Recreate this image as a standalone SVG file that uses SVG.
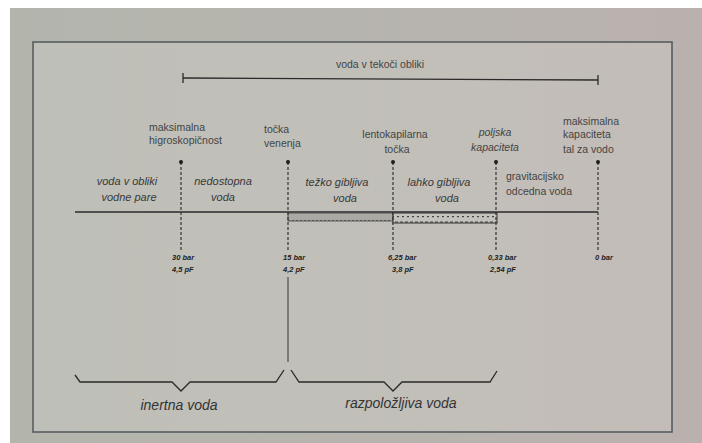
<svg xmlns="http://www.w3.org/2000/svg" width="702" height="443" viewBox="0 0 702 443">
<defs>
<linearGradient id="bg" x1="0" y1="0" x2="1" y2="0">
<stop offset="0" stop-color="#b3b5ad"/>
<stop offset="0.6" stop-color="#b7b4ae"/>
<stop offset="1" stop-color="#bab1ae"/>
</linearGradient>
<linearGradient id="paper" x1="0" y1="0" x2="1" y2="0">
<stop offset="0" stop-color="#bebfb8"/>
<stop offset="0.6" stop-color="#c2bfb9"/>
<stop offset="1" stop-color="#c3bcb8"/>
</linearGradient>
<pattern id="dots" width="4" height="9" patternUnits="userSpaceOnUse">
<rect x="0" y="4" width="2" height="1.2" fill="#555"/>
</pattern>
<pattern id="ticks" width="5" height="10" patternUnits="userSpaceOnUse">
<rect x="0" y="1.5" width="3" height="1.2" fill="#444"/>
<rect x="2" y="6" width="2" height="1.2" fill="#444"/>
</pattern>
</defs>
<style>
.lbl{font-family:"Liberation Sans",Arial,sans-serif;font-size:10.5px;fill:#444}
.it{font-family:"Liberation Sans",Arial,sans-serif;font-size:11px;font-style:italic;fill:#383838}
.val{font-family:"Liberation Sans",Arial,sans-serif;font-size:7.5px;font-weight:bold;font-style:italic;fill:#1e1e1e}
.big{font-family:"Liberation Sans",Arial,sans-serif;font-size:14px;font-style:italic;fill:#333}
.dash{stroke:#333;stroke-width:1.2;stroke-dasharray:3 2;fill:none}
.dot{fill:#1e1e1e}
.ln{stroke:#2a2a2a;fill:none}
</style>
<rect x="0" y="0" width="702" height="443" fill="#ffffff"/>
<rect x="10" y="8" width="692" height="435" fill="url(#bg)"/>
<rect x="33" y="42" width="639" height="390" fill="url(#paper)" stroke="#575d60" stroke-width="1.6"/>

<g id="connectors">
<line class="ln" x1="75" y1="212" x2="598" y2="212" stroke-width="1.6"/>
<rect x="288" y="213" width="105" height="8" fill="#aaa9a4" stroke="#444" stroke-width="0.8"/>
<rect x="288" y="213" width="105" height="8" fill="url(#dots)"/>
<rect x="393" y="213" width="104" height="10" fill="#c4c2bc" stroke="#333" stroke-width="1"/>
<rect x="393" y="213" width="104" height="10" fill="url(#ticks)"/>
<line class="dash" x1="181" y1="162" x2="181" y2="250"/>
<line class="dash" x1="288" y1="162" x2="288" y2="250"/>
<line class="ln" x1="288" y1="277" x2="288" y2="362" stroke-width="0.9" stroke="#555"/>
<line class="dash" x1="393" y1="162" x2="393" y2="250"/>
<line class="dash" x1="496" y1="162" x2="496" y2="250"/>
<line class="dash" x1="598" y1="162" x2="598" y2="250"/>
<path class="ln" stroke-width="1.3" stroke="#3a3a3a" d="M75 375 L80 382 L172 382 L181 391 L190 382 L276 382 L284 370"/>
<path class="ln" stroke-width="1.3" stroke="#3a3a3a" d="M291 370 L299 382 L384 382 L393 391 L402 382 L490 382 L497 371"/>
<line class="ln" x1="183" y1="78" x2="598" y2="80" stroke-width="1.3"/>
<line class="ln" x1="183" y1="73" x2="183" y2="83" stroke-width="1.3"/>
<line class="ln" x1="598" y1="75" x2="598" y2="85" stroke-width="1.3"/>
</g>

<g id="top-range"><text class="lbl" x="380" y="68" text-anchor="middle">voda v tekoči obliki</text></g>

<g id="p-higro">
<circle class="dot" cx="181" cy="162" r="2"/>
<text class="lbl" x="149" y="131">maksimalna</text>
<text class="lbl" x="149" y="144">higroskopičnost</text>
<text class="val" x="172" y="260">30 bar</text>
<text class="val" x="172" y="272">4,5 pF</text>
</g>
<g id="p-venenje">
<circle class="dot" cx="288" cy="162" r="2"/>
<text class="lbl" x="264" y="133">točka</text>
<text class="lbl" x="264" y="147">venenja</text>
<text class="val" x="283" y="260">15 bar</text>
<text class="val" x="283" y="272">4,2 pF</text>
</g>
<g id="p-lento">
<circle class="dot" cx="393" cy="162" r="2"/>
<text class="lbl" x="395" y="138" text-anchor="middle">lentokapilarna</text>
<text class="lbl" x="397" y="153" text-anchor="middle">točka</text>
<text class="val" x="388" y="260">6,25 bar</text>
<text class="val" x="392" y="272">3,8 pF</text>
</g>
<g id="p-poljska">
<circle class="dot" cx="496" cy="162" r="2"/>
<text class="lbl" x="495" y="136" text-anchor="middle" font-style="italic">poljska</text>
<text class="lbl" x="495" y="151" text-anchor="middle" font-style="italic">kapaciteta</text>
<text class="val" x="488" y="260">0,33 bar</text>
<text class="val" x="490" y="272">2,54 pF</text>
</g>
<g id="p-maxkap">
<circle class="dot" cx="598" cy="162" r="2"/>
<text class="lbl" x="563" y="125">maksimalna</text>
<text class="lbl" x="563" y="138">kapaciteta</text>
<text class="lbl" x="563" y="153">tal za vodo</text>
<text class="val" x="595" y="260">0 bar</text>
</g>

<g id="z-para">
<text class="it" x="127" y="185" text-anchor="middle">voda v obliki</text>
<text class="it" x="129" y="201" text-anchor="middle">vodne pare</text>
</g>
<g id="z-nedostopna">
<text class="it" x="223" y="185" text-anchor="middle">nedostopna</text>
<text class="it" x="223" y="201" text-anchor="middle">voda</text>
</g>
<g id="z-tezko">
<text class="it" x="337" y="186" text-anchor="middle">težko gibljiva</text>
<text class="it" x="345" y="202" text-anchor="middle">voda</text>
</g>
<g id="z-lahko">
<text class="it" x="439" y="186" text-anchor="middle">lahko gibljiva</text>
<text class="it" x="447" y="202" text-anchor="middle">voda</text>
</g>
<g id="z-grav">
<text class="lbl" x="506" y="180">gravitacijsko</text>
<text class="lbl" x="506" y="195">odcedna voda</text>
</g>
<g id="b-inertna"><text class="big" x="179" y="410" text-anchor="middle">inertna voda</text></g>
<g id="b-razpol"><text class="big" x="401" y="408" text-anchor="middle">razpoložljiva voda</text></g>
</svg>
